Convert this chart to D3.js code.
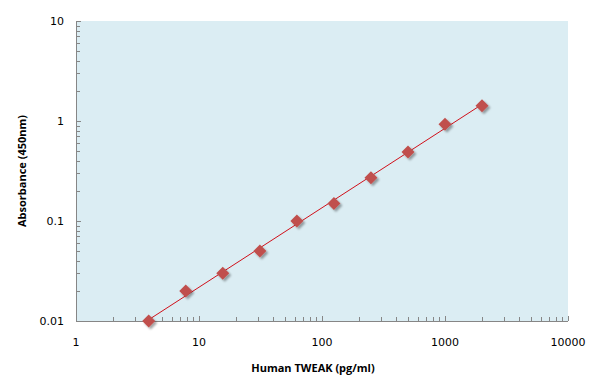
<!DOCTYPE html>
<html><head><meta charset="utf-8">
<script src="https://cdn.jsdelivr.net/npm/d3@7"></script>
<style>body{margin:0;background:#fff}svg{display:block}</style>
</head><body>
<script>
const concentrations = [3.9, 7.8, 15.6, 31.25, 62.5, 125, 250, 500, 1000, 2000];
const absorbances = [0.01, 0.02, 0.03, 0.05, 0.1, 0.15, 0.27, 0.49, 0.93, 1.42];
const xTickValues = [1, 10, 100, 1000, 10000];
const yTickValues = [0.01, 0.1, 1, 10];
const xTitle = "Human TWEAK  (pg/ml)";
const yTitle = "Absorbance (450nm)";

const W = 596, H = 391;
const m = {l: 76, r: 28, t: 21, b: 70};
const svg = d3.select("body").append("svg").attr("width", W).attr("height", H);
const defs = svg.append("defs");
const f = defs.append("filter").attr("id","sh").attr("x","-50%").attr("y","-50%").attr("width","200%").attr("height","200%");
f.append("feDropShadow").attr("dx",2).attr("dy",2).attr("stdDeviation",1.3).attr("flood-color","#000").attr("flood-opacity",0.35);

const x = d3.scaleLog().domain([1, 10000]).range([m.l, W - m.r]);
const y = d3.scaleLog().domain([0.01, 10]).range([H - m.b, m.t]);

svg.append("rect").attr("x", m.l).attr("y", m.t).attr("width", W - m.r - m.l).attr("height", H - m.b - m.t).attr("fill", "#dbedf3");

// minor ticks
const xMinor = [];
for (let d = 1; d < 10000; d *= 10) for (let k = 2; k <= 9; k++) xMinor.push(d * k);
const yMinor = [];
for (let d = 0.01; d < 9; d *= 10) for (let k = 2; k <= 9; k++) yMinor.push(+(d * k).toPrecision(3));

const ax = svg.append("g").attr("stroke", "#868686").attr("stroke-width", 1);
ax.append("line").attr("x1", m.l).attr("x2", W - m.r).attr("y1", y(0.01)+0.5).attr("y2", y(0.01)+0.5);
ax.append("line").attr("x1", m.l+0.5).attr("x2", m.l+0.5).attr("y1", m.t).attr("y2", H - m.b);
ax.selectAll(".xm").data(xMinor).enter().append("line")
  .attr("x1", d => Math.round(x(d))+0.5).attr("x2", d => Math.round(x(d))+0.5)
  .attr("y1", y(0.01)).attr("y2", y(0.01) - 4);
ax.selectAll(".xM").data(xTickValues).enter().append("line")
  .attr("x1", d => Math.round(x(d))+0.5).attr("x2", d => Math.round(x(d))+0.5)
  .attr("y1", y(0.01)).attr("y2", y(0.01) - 5);
ax.selectAll(".ym").data(yMinor).enter().append("line")
  .attr("y1", d => Math.round(y(d))+0.5).attr("y2", d => Math.round(y(d))+0.5)
  .attr("x1", m.l).attr("x2", m.l + 4);
ax.selectAll(".yM").data(yTickValues).enter().append("line")
  .attr("y1", d => Math.round(y(d))+0.5).attr("y2", d => Math.round(y(d))+0.5)
  .attr("x1", m.l).attr("x2", m.l + 5);

const font = "'DejaVu Sans', Verdana, sans-serif";
svg.selectAll(".xl").data(xTickValues).enter().append("text")
  .attr("x", d => x(d)).attr("y", y(0.01) + 25).attr("text-anchor", "middle")
  .attr("font-family", font).attr("font-size", 11).attr("fill", "#000").text(d => d);
svg.selectAll(".yl").data(yTickValues).enter().append("text")
  .attr("x", m.l - 12).attr("y", d => y(d) + 4).attr("text-anchor", "end")
  .attr("font-family", font).attr("font-size", 11).attr("fill", "#000").text(d => d);

svg.append("text").attr("x", 313).attr("y", 372).attr("text-anchor", "middle")
  .attr("font-family", "'Open Sans', sans-serif").attr("font-weight", "bold").attr("font-size", 11).text(xTitle);
svg.append("text").attr("transform", "translate(26," + ((m.t + H - m.b) / 2) + ") rotate(-90)")
  .attr("text-anchor", "middle")
  .attr("font-family", "'Open Sans', sans-serif").attr("font-weight", "bold").attr("font-size", 11).text(yTitle);

// log-log least squares trend line
const lx = concentrations.map(Math.log10), ly = absorbances.map(Math.log10);
const mx = d3.mean(lx), my = d3.mean(ly);
const slope = d3.sum(lx.map((v, i) => (v - mx) * (ly[i] - my))) / d3.sum(lx.map(v => (v - mx) ** 2));
const icpt = my - slope * mx;
const xs = d3.extent(concentrations);
svg.append("path").attr("d", d3.line()(xs.map(v => [x(v), y(Math.pow(10, icpt + slope * Math.log10(v)))])))
  .attr("stroke", "#d0101a").attr("stroke-width", 1).attr("fill", "none");

svg.selectAll(".pt").data(concentrations).enter().append("path")
  .attr("transform", (d, i) => "translate(" + x(d) + "," + y(absorbances[i]) + ")")
  .attr("d", d3.symbol(d3.symbolDiamond2, 100)).attr("transform", (d, i) => "translate(" + x(d) + "," + y(absorbances[i]) + ") rotate(0)")
  .attr("d", "M0,-6.5L6.5,0L0,6.5L-6.5,0Z")
  .attr("fill", "#c0504d").attr("filter", "url(#sh)");
</script>
</body></html>
